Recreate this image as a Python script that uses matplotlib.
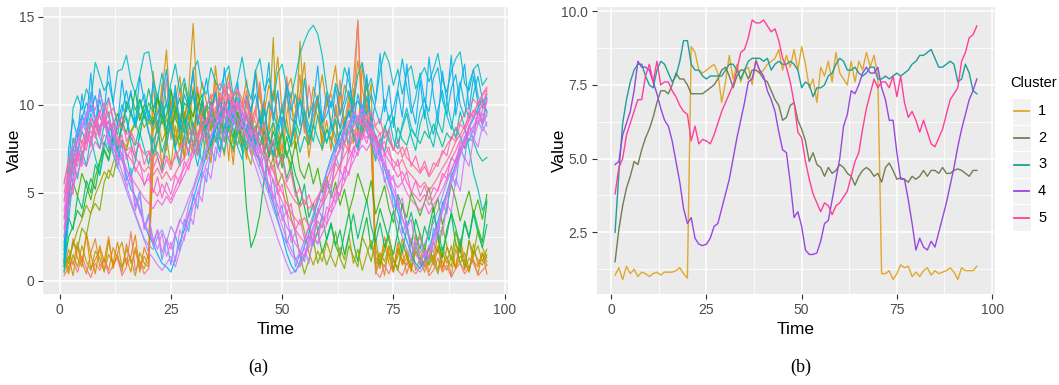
import numpy as np
import matplotlib
matplotlib.use('Agg')
from matplotlib import pyplot as plt
from matplotlib.lines import Line2D
from matplotlib.patches import Rectangle

# ---- data: panel (b) cluster centres ----
time = list(range(1, 97))
clusters = ['1', '2', '3', '4', '5']
center_colors = ['#E0A82E', '#6F7F52', '#1E9E9A', '#9A46E2', '#FF3F9C']

c1 = [1.05, 1.3, 0.9, 1.35, 1.1, 1.25, 1.0, 1.15, 1.1, 1.0, 1.1, 1.15, 1.05, 1.15, 1.15, 1.15, 1.2, 1.3, 1.1, 0.95,
      8.8, 8.6, 8.0, 7.9, 8.0, 8.1, 8.2, 7.9, 6.9, 7.6, 8.5, 7.7, 8.2, 7.6, 8.0, 8.1, 7.5, 8.4, 7.9, 8.0,
      8.2, 8.3, 8.4, 8.7, 8.0, 8.5, 8.1, 8.7, 8.0, 8.8, 8.2, 7.4, 7.7, 6.9, 8.1, 7.8, 8.3, 7.6, 8.6, 7.9,
      7.7, 7.5, 8.3, 7.6, 8.3, 8.0, 8.6, 8.1, 8.5, 7.8, 1.1, 1.1, 1.2, 0.9, 1.1, 1.4, 1.3, 1.35, 1.0, 1.15,
      1.0, 1.2, 1.3, 1.05, 1.2, 1.1, 1.15, 1.2, 1.3, 1.15, 0.9, 1.3, 1.2, 1.2, 1.2, 1.35]
c2 = [1.5, 2.6, 3.4, 4.0, 4.4, 4.9, 4.8, 5.3, 5.7, 6.0, 6.4, 6.9, 7.3, 7.3, 7.2, 7.5, 7.9, 7.7, 7.7, 7.5,
      7.2, 7.2, 7.2, 7.2, 7.3, 7.4, 7.5, 7.7, 8.0, 8.1, 7.8, 7.4, 7.8, 8.0, 8.0, 7.7, 8.0, 8.0, 7.9, 7.7,
      7.6, 7.3, 7.0, 6.8, 6.3, 6.4, 6.8, 6.9, 6.3, 6.0, 5.6, 4.9, 5.2, 4.8, 4.7, 4.4, 4.7, 4.5, 4.6, 4.8,
      4.7, 4.5, 4.4, 4.1, 4.4, 4.6, 4.7, 4.6, 4.4, 4.5, 4.2, 4.7, 4.85, 4.6, 4.3, 4.35, 4.3, 4.2, 4.4, 4.3,
      4.4, 4.6, 4.4, 4.6, 4.6, 4.5, 4.7, 4.5, 4.5, 4.6, 4.65, 4.6, 4.5, 4.4, 4.6, 4.6]
c3 = [2.5, 4.5, 6.2, 7.0, 7.6, 8.0, 8.2, 8.2, 7.8, 7.5, 7.4, 8.0, 8.3, 8.2, 7.9, 7.6, 7.8, 8.3, 9.0, 9.0,
      8.2, 8.0, 8.0, 7.8, 7.7, 7.8, 7.8, 7.8, 7.8, 8.0, 8.2, 8.2, 8.0, 7.7, 8.0, 8.3, 8.4, 8.4, 8.4, 8.3,
      8.4, 8.0, 8.2, 8.3, 8.2, 8.2, 8.3, 8.2, 8.0, 7.4, 7.6, 7.5, 7.1, 7.4, 7.4, 7.5, 7.8, 7.9, 8.2, 8.4,
      8.3, 8.0, 8.0, 8.1, 7.9, 7.8, 7.9, 8.1, 8.1, 7.7, 7.7, 7.8, 7.7, 7.8, 7.9, 7.8, 7.9, 8.0, 8.2, 8.3,
      8.5, 8.5, 8.6, 8.7, 8.4, 8.1, 8.1, 8.2, 8.3, 8.2, 7.6, 7.7, 8.2, 7.9, 7.3, 7.2]
c4 = [4.8, 4.9, 5.8, 6.2, 6.6, 7.3, 8.3, 8.1, 8.1, 8.0, 7.6, 7.2, 6.7, 6.3, 6.1, 5.6, 4.9, 4.2, 3.3, 2.8,
      3.0, 2.3, 2.1, 2.05, 2.1, 2.3, 2.7, 2.8, 3.3, 3.8, 4.3, 5.0, 5.7, 6.3, 6.9, 7.6, 7.7, 8.3, 8.0, 7.8,
      7.3, 7.0, 6.6, 5.9, 5.3, 5.2, 4.2, 3.0, 3.2, 2.7, 1.9, 1.75, 1.75, 1.8, 2.2, 2.8, 2.9, 3.6, 4.3, 5.0,
      6.1, 6.5, 7.3, 7.2, 7.5, 7.9, 8.1, 7.9, 7.9, 8.1, 7.4, 7.0, 6.3, 6.3, 5.2, 4.3, 4.3, 3.6, 2.8, 1.9,
      2.3, 2.0, 1.9, 2.2, 2.0, 2.5, 3.0, 3.5, 4.1, 4.7, 5.4, 6.0, 6.5, 7.0, 7.3, 7.7]
c5 = [3.8, 4.7, 5.0, 5.8, 6.2, 6.6, 7.0, 7.0, 7.8, 8.2, 7.6, 8.3, 7.5, 7.6, 7.6, 7.3, 7.1, 6.8, 6.6, 6.5,
      5.6, 6.1, 5.5, 5.65, 5.6, 5.5, 5.8, 6.2, 6.6, 6.9, 7.2, 7.5, 8.0, 8.6, 8.7, 9.1, 9.7, 9.6, 9.6, 9.7,
      9.5, 9.3, 9.4, 9.0, 8.4, 8.1, 7.6, 6.9, 5.9, 5.7, 4.9, 4.3, 3.8, 3.5, 3.2, 3.5, 3.4, 3.1, 3.4, 3.5,
      3.7, 3.9, 4.4, 4.9, 5.2, 6.0, 6.7, 7.2, 7.7, 7.4, 7.6, 7.6, 7.4, 7.8, 7.1, 7.8, 6.9, 6.4, 6.6, 6.3,
      5.9, 6.3, 5.9, 5.5, 5.4, 5.7, 6.0, 6.5, 7.0, 7.2, 7.4, 8.3, 8.6, 9.1, 9.2, 9.5]
centers = [c1, c2, c3, c4, c5]

# ---- data: panel (a) individual series (a sample) ----
members = {
    # cluster 1: low - high - low
    '#DD8D29': [0.5, 1.8, 0.9, 2.2, 1.1, 0.4, 1.6, 2.4, 0.8, 1.3, 0.6, 1.9, 1.2, 0.5, 2.1, 1.0, 1.7, 0.7, 1.4, 0.9,
                9.8, 8.5, 11.2, 7.4, 9.9, 10.6, 8.2, 7.1, 9.5, 12.1, 8.8, 10.3, 7.6, 9.1, 11.4, 8.3, 9.7, 6.8, 10.5, 8.9,
                7.5, 10.2, 8.6, 9.4, 11.0, 7.9, 8.4, 10.8, 9.2, 7.3, 10.9, 8.1, 9.6, 11.7, 8.7, 7.8, 10.1, 9.3, 8.0, 10.4,
                9.0, 7.7, 10.7, 8.5, 9.8, 11.3, 14.7, 8.2, 10.0, 9.4, 0.6, 1.5, 0.3, 2.0, 1.1, 0.8, 1.7, 0.4, 1.3, 2.2,
                0.9, 1.6, 0.5, 1.2, 2.0, 0.7, 1.4, 0.3, 1.8, 1.0, 0.6, 2.3, 1.1, 0.8, 1.5, 0.9],
    '#B79F00': [1.2, 0.4, 1.5, 0.8, 2.0, 1.1, 0.6, 1.7, 1.3, 0.5, 2.3, 0.9, 1.4, 0.7, 1.8, 1.2, 0.3, 1.6, 1.0, 0.8,
                6.8, 7.9, 9.3, 8.1, 6.5, 8.8, 7.4, 9.6, 8.0, 7.2, 10.1, 8.5, 6.9, 7.8, 9.0, 8.3, 7.1, 9.4, 8.6, 7.7,
                8.9, 7.3, 6.6, 8.2, 9.7, 7.5, 8.8, 13.8, 7.0, 8.4, 9.2, 7.6, 8.1, 13.6, 9.5, 7.9, 8.7, 10.3, 7.4, 8.6,
                8.0, 9.1, 7.5, 8.8, 10.6, 7.8, 9.3, 8.4, 11.5, 7.6, 1.4, 0.7, 2.1, 1.0, 0.5, 1.8, 1.2, 0.9, 2.4, 0.6,
                1.3, 0.8, 1.9, 1.1, 0.4, 1.6, 1.0, 2.0, 0.7, 1.4, 1.1, 0.5, 1.7, 1.2, 0.9, 1.5],
    '#D39200': [0.9, 1.4, 0.3, 1.9, 1.0, 2.6, 0.7, 1.2, 1.8, 0.6, 1.5, 1.0, 2.2, 0.8, 1.3, 0.5, 1.9, 1.1, 0.7, 1.6,
                11.9, 9.4, 10.7, 13.1, 8.9, 10.2, 11.6, 9.0, 10.8, 14.6, 9.7, 11.3, 10.1, 8.6, 12.2, 9.9, 10.5, 11.8, 9.3, 10.7,
                10.0, 11.4, 9.1, 12.0, 10.3, 9.6, 11.1, 10.4, 12.7, 9.5, 10.9, 11.5, 9.8, 10.6, 12.4, 9.2, 11.0, 10.1, 11.7, 9.9,
                10.8, 12.2, 9.4, 11.1, 10.5, 9.7, 12.5, 10.9, 9.6, 11.2, 0.4, 1.2, 0.8, 1.6, 0.5, 1.9, 0.9, 1.3, 0.6, 1.7,
                1.2, 0.5, 1.5, 0.9, 1.8, 1.1, 0.6, 1.4, 0.8, 2.1, 0.7, 1.3, 1.0, 0.4, 1.6, 1.1],
    '#F8766D': [0.3, 0.8, 1.1, 0.5, 1.4, 0.7, 0.2, 1.0, 0.6, 1.2, 0.4, 0.9, 1.5, 0.3, 0.8, 2.8, 0.6, 1.1, 0.4, 0.7,
                8.7, 10.3, 9.1, 11.5, 8.0, 9.6, 10.9, 8.4, 10.1, 9.3, 11.0, 8.8, 9.9, 10.6, 8.5, 9.4, 11.2, 9.0, 10.0, 8.3,
                9.5, 10.8, 8.9, 9.8, 11.3, 8.6, 10.2, 9.1, 10.7, 8.8, 11.6, 9.7, 9.2, 10.5, 8.4, 11.1, 9.6, 10.3, 8.9, 9.9,
                10.6, 9.3, 11.4, 8.7, 10.1, 9.5, 14.8, 9.0, 10.4, 8.6, 0.5, 0.2, 0.9, 0.4, 1.2, 0.6, 0.3, 1.0, 0.7, 0.4,
                0.8, 1.1, 0.3, 0.6, 1.3, 0.5, 0.9, 0.2, 0.7, 1.0, 0.4, 0.8, 1.2, 0.3, 0.6, 0.9],
    '#E58700': [1.8, 0.6, 2.4, 1.3, 0.8, 2.7, 1.5, 0.4, 2.0, 1.1, 2.5, 0.7, 1.6, 2.2, 0.9, 1.4, 2.6, 0.5, 1.9, 1.2,
                7.2, 9.0, 6.4, 8.3, 10.4, 7.7, 9.5, 6.9, 8.6, 11.0, 7.4, 9.8, 8.0, 6.7, 9.2, 10.6, 7.9, 8.8, 6.6, 9.6,
                8.3, 6.9, 9.9, 7.6, 8.7, 10.2, 7.1, 9.0, 8.2, 6.8, 9.4, 10.7, 7.5, 8.4, 9.6, 7.0, 8.9, 10.5, 7.8, 9.1,
                7.4, 10.0, 8.6, 9.3, 7.2, 10.9, 8.1, 12.3, 9.5, 7.9, 1.8, 0.9, 2.5, 1.4, 0.6, 2.2, 1.0, 1.7, 0.5, 2.6,
                1.4, 0.8, 2.0, 1.1, 2.7, 0.6, 1.9, 1.3, 0.7, 2.4, 1.2, 0.5, 2.1, 0.9, 1.6, 0.4],
    # cluster 2: rise, plateau, drop
    '#00BA38': [0.8, 2.5, 3.1, 4.0, 3.6, 4.9, 5.8, 5.2, 6.7, 7.9, 7.3, 8.8, 9.5, 8.6, 10.2, 9.4, 10.8, 9.1, 10.0, 9.6,
                8.9, 10.4, 9.7, 8.3, 10.9, 9.2, 8.6, 10.1, 9.8, 8.4, 9.9, 10.6, 8.8, 9.5, 7.9, 8.7, 10.2, 9.0, 8.1, 9.4,
                7.6, 4.1, 1.9, 2.6, 3.8, 5.9, 7.2, 8.5, 7.7, 6.4, 8.2, 7.1, 6.0, 5.3, 4.2, 3.0, 2.1, 2.8, 1.6, 2.4,
                3.3, 2.0, 1.4, 2.7, 3.9, 2.2, 1.1, 2.5, 3.6, 1.8, 2.9, 4.1, 3.2, 2.3, 1.5, 2.8, 4.4, 3.1, 2.0, 3.5,
                2.6, 1.7, 3.0, 4.2, 2.4, 1.3, 2.9, 3.8, 2.1, 1.6, 3.4, 2.5, 4.0, 3.0, 2.2, 4.5],
    '#7CAE00': [1.5, 1.0, 2.2, 1.8, 3.0, 2.6, 3.9, 4.4, 4.0, 5.6, 6.3, 5.9, 7.1, 7.8, 7.4, 8.5, 9.0, 8.2, 9.6, 8.9,
                9.3, 8.4, 10.0, 9.1, 8.6, 9.8, 8.0, 9.4, 10.3, 8.7, 9.2, 8.3, 9.9, 8.5, 9.6, 10.1, 8.8, 9.3, 7.8, 8.9,
                8.4, 7.7, 8.9, 7.3, 6.8, 7.5, 6.2, 7.0, 5.4, 6.1, 4.8, 3.6, 2.7, 1.5, 0.4, 1.2, 2.3, 1.0, 1.8, 0.9,
                1.6, 2.8, 1.3, 0.7, 2.0, 1.4, 0.8, 2.5, 1.9, 1.1, 2.4, 0.9, 1.7, 2.6, 1.2, 0.6, 2.1, 1.5, 0.8, 1.9,
                2.7, 1.4, 0.9, 2.2, 1.6, 3.1, 2.0, 1.2, 2.8, 1.7, 0.8, 2.3, 1.5, 2.9, 1.9, 1.3],
    '#39B600': [1.0, 4.2, 5.6, 4.8, 6.1, 5.4, 4.6, 5.9, 6.8, 7.5, 6.9, 8.3, 7.7, 8.9, 9.8, 10.6, 9.7, 10.3, 9.2, 10.1,
                9.6, 10.5, 8.9, 9.4, 10.8, 9.9, 8.7, 11.2, 10.0, 9.3, 10.7, 9.5, 8.6, 10.2, 9.1, 8.4, 9.7, 10.4, 8.9, 9.6,
                8.8, 9.5, 7.9, 8.6, 9.3, 7.4, 8.2, 6.9, 7.8, 8.5, 7.2, 6.6, 7.9, 6.3, 5.8, 6.7, 5.5, 6.4, 5.0, 5.9,
                4.7, 5.6, 4.3, 5.2, 3.9, 4.8, 6.1, 5.3, 4.5, 5.7, 3.8, 4.6, 5.4, 4.1, 3.3, 4.9, 4.2, 3.6, 5.0, 4.4,
                3.7, 4.5, 5.3, 3.9, 4.7, 3.2, 4.1, 5.5, 4.6, 3.4, 4.3, 5.1, 3.8, 4.6, 3.5, 4.9],
    '#A3A500': [0.6, 1.3, 2.0, 2.9, 3.5, 4.3, 3.8, 4.9, 5.5, 6.2, 5.8, 6.7, 7.4, 8.0, 7.6, 8.4, 8.9, 9.5, 8.7, 9.2,
                8.5, 9.1, 7.9, 8.6, 9.4, 8.2, 7.7, 8.8, 9.3, 7.5, 8.4, 9.0, 8.1, 7.4, 8.7, 9.2, 8.0, 8.6, 7.3, 8.5,
                7.9, 8.6, 7.2, 8.1, 7.6, 8.8, 7.0, 7.9, 8.4, 6.7, 7.4, 6.1, 5.2, 3.9, 2.8, 1.6, 0.9, 1.7, 1.1, 2.2,
                1.4, 0.8, 1.9, 1.2, 2.6, 1.0, 1.8, 0.6, 1.5, 2.3, 0.9, 1.6, 1.1, 2.0, 0.7, 1.4, 2.4, 1.3, 0.8, 1.7,
                1.2, 2.1, 0.9, 1.5, 0.6, 1.9, 1.3, 0.8, 2.2, 1.0, 1.6, 0.7, 1.4, 2.0, 1.1, 1.8],
    '#00BE67': [2.2, 3.6, 2.9, 4.8, 4.1, 5.7, 5.0, 6.6, 6.0, 7.4, 6.8, 8.1, 7.5, 9.0, 8.4, 9.6, 8.9, 10.3, 9.5, 10.9,
                9.8, 10.6, 9.2, 10.1, 8.7, 9.5, 10.4, 8.9, 9.7, 10.8, 9.0, 10.2, 8.5, 9.6, 10.7, 9.3, 8.4, 9.9, 10.5, 9.1,
                8.6, 9.4, 8.0, 8.8, 7.6, 8.5, 7.0, 7.9, 6.4, 7.2, 5.8, 6.6, 5.1, 4.3, 5.5, 3.6, 4.4, 2.8, 3.7, 2.3,
                3.2, 2.0, 2.9, 1.5, 2.6, 3.8, 2.4, 3.5, 4.6, 3.1, 2.2, 3.3, 1.9, 2.8, 4.0, 2.5, 1.6, 3.0, 3.9, 2.7,
                1.8, 3.1, 2.3, 3.7, 2.9, 1.7, 2.6, 3.9, 3.0, 2.0, 3.3, 2.4, 3.8, 2.7, 1.9, 3.2],
    # cluster 3: high throughout
    '#00BFC4': [0.8, 6.2, 9.8, 10.5, 9.7, 10.9, 10.2, 12.4, 11.6, 10.8, 11.3, 10.1, 11.9, 12.0, 12.8, 11.4, 10.6, 11.7, 12.9, 13.0,
                11.5, 10.4, 11.8, 10.0, 11.2, 12.3, 10.7, 11.5, 10.2, 11.9, 12.5, 11.0, 10.6, 12.1, 11.3, 10.8, 11.7, 12.2, 10.5, 11.4,
                12.7, 11.1, 10.3, 11.9, 12.6, 10.8, 11.5, 10.2, 11.8, 12.3, 11.0, 10.4, 11.6, 12.9, 13.6, 14.2, 14.5, 14.0, 12.8, 10.9,
                9.8, 11.2, 10.5, 12.1, 11.3, 10.0, 11.7, 12.4, 10.8, 11.5, 10.2, 11.9, 13.0, 12.4, 11.1, 12.0, 10.6, 11.8, 12.2, 10.9,
                11.6, 12.1, 11.3, 12.0, 12.9, 11.4, 10.7, 11.9, 12.6, 13.0, 11.2, 10.8, 12.0, 12.3, 11.1, 11.5],
    '#00B8E7': [1.5, 5.0, 7.3, 8.6, 9.4, 8.8, 10.0, 9.2, 8.5, 9.7, 10.4, 9.1, 8.3, 9.6, 10.8, 9.5, 8.7, 9.9, 10.6, 9.3,
                8.8, 9.5, 10.2, 8.6, 9.4, 10.7, 9.0, 8.4, 9.8, 10.5, 9.2, 8.7, 10.0, 9.6, 8.9, 10.3, 9.4, 8.6, 9.9, 10.4,
                9.1, 8.5, 9.7, 10.6, 9.3, 8.8, 10.1, 9.5, 8.6, 9.9, 10.7, 9.2, 8.9, 10.3, 9.6, 8.4, 9.8, 10.5, 9.0, 9.4,
                10.2, 9.5, 8.7, 9.9, 10.8, 9.3, 8.6, 10.0, 9.4, 10.6, 9.7, 8.9, 10.3, 9.1, 9.8, 10.9, 12.6, 11.0, 9.5, 10.4,
                11.8, 10.2, 9.6, 11.5, 12.1, 10.3, 9.4, 10.9, 11.7, 10.0, 9.3, 11.2, 12.0, 10.5, 9.8, 10.6],
    '#00C19A': [2.0, 5.8, 8.1, 7.2, 8.5, 7.8, 9.0, 8.3, 7.5, 8.9, 9.6, 8.0, 7.4, 8.7, 9.3, 8.1, 7.7, 8.8, 9.5, 8.4,
                7.9, 8.6, 7.3, 8.2, 9.0, 7.6, 8.4, 9.2, 7.8, 8.5, 7.1, 8.3, 9.1, 7.7, 8.6, 7.4, 8.9, 8.0, 7.5, 8.7,
                8.1, 7.4, 8.8, 7.9, 8.5, 7.2, 8.3, 9.0, 7.6, 8.4, 7.0, 7.9, 8.7, 7.3, 8.2, 7.7, 8.9, 8.1, 7.5, 8.6,
                8.0, 7.3, 8.5, 7.8, 8.9, 8.2, 7.6, 8.4, 9.1, 7.9, 8.3, 7.5, 8.8, 8.1, 7.4, 8.7, 8.0, 7.7, 8.6, 8.2,
                7.8, 8.5, 8.1, 8.9, 8.3, 7.6, 8.4, 8.0, 8.7, 8.2, 7.5, 8.1, 7.9, 7.2, 6.8, 7.0],
    '#00BCD8': [0.5, 3.4, 5.9, 7.6, 6.8, 8.2, 9.5, 8.7, 10.3, 9.1, 8.4, 7.6, 8.9, 10.0, 9.2, 7.8, 6.9, 8.3, 9.7, 8.5,
                7.2, 8.0, 9.4, 10.1, 8.6, 7.5, 6.8, 8.2, 9.0, 7.7, 6.5, 7.9, 8.8, 9.6, 8.1, 7.3, 8.5, 9.9, 8.4, 7.6,
                6.9, 8.3, 9.1, 7.5, 8.7, 9.8, 8.0, 7.1, 8.4, 9.3, 8.6, 7.8, 9.5, 10.2, 9.0, 8.1, 9.4, 10.0, 8.8, 7.9,
                8.5, 9.2, 7.6, 8.8, 9.7, 8.3, 7.4, 9.0, 10.5, 9.3, 8.1, 7.2, 8.6, 9.4, 8.0, 7.5, 8.9, 9.8, 8.7, 8.2,
                9.6, 10.4, 9.1, 8.3, 9.7, 10.8, 9.4, 8.6, 10.1, 11.3, 10.0, 9.2, 10.6, 11.6, 10.3, 9.5],
    '#00B0F6': [1.0, 7.5, 9.2, 8.1, 10.6, 9.0, 11.8, 8.7, 10.9, 9.5, 12.2, 10.1, 8.8, 11.4, 9.6, 10.8, 8.9, 11.6, 10.2, 9.1,
                11.3, 8.6, 10.4, 12.0, 9.3, 11.1, 8.5, 10.6, 9.8, 11.9, 8.9, 10.2, 11.5, 9.4, 10.7, 8.8, 12.1, 10.0, 9.2, 11.3,
                8.7, 10.5, 9.6, 11.8, 8.9, 10.3, 12.4, 9.1, 10.8, 8.4, 11.2, 9.7, 10.6, 8.8, 11.5, 9.3, 10.1, 12.2, 9.0, 10.7,
                8.6, 11.0, 9.4, 10.3, 12.1, 8.9, 10.6, 9.5, 11.7, 8.8, 10.2, 12.9, 9.6, 11.1, 8.7, 10.8, 9.3, 12.3, 10.0, 8.9,
                11.4, 9.2, 12.7, 10.5, 9.0, 11.9, 10.2, 12.8, 9.4, 11.0, 12.3, 9.7, 11.6, 10.1, 8.8, 10.4],
    '#00C0B8': [1.8, 4.6, 6.9, 5.8, 7.4, 6.5, 8.2, 7.0, 6.1, 7.7, 8.6, 7.3, 6.4, 8.0, 7.2, 5.9, 6.8, 8.4, 7.5, 6.6,
                8.1, 7.0, 6.2, 7.8, 8.9, 7.4, 6.5, 8.3, 7.1, 9.0, 7.9, 6.7, 8.5, 7.6, 9.2, 8.0, 7.3, 8.8, 9.5, 8.2,
                7.4, 8.7, 9.3, 7.8, 8.4, 9.6, 8.1, 7.2, 8.9, 9.8, 8.5, 7.7, 9.1, 8.3, 9.7, 8.8, 7.9, 9.4, 8.6, 7.8,
                9.0, 8.2, 7.5, 8.8, 9.6, 8.4, 7.7, 9.2, 8.5, 7.9, 6.8, 8.1, 7.3, 8.6, 9.3, 7.8, 8.7, 9.5, 8.2, 7.4,
                8.9, 9.7, 8.3, 7.6, 9.1, 8.4, 10.2, 9.0, 8.1, 9.6, 8.7, 7.5, 6.1, 5.2, 4.0, 4.6],
    # cluster 4: deep waves
    '#00A9FF': [1.2, 4.5, 6.8, 8.0, 9.2, 10.1, 9.6, 10.5, 9.3, 8.8, 9.0, 8.1, 7.4, 6.9, 6.0, 5.2, 4.8, 4.1, 3.2, 2.6,
                2.1, 1.5, 1.0, 0.8, 0.5, 1.3, 2.2, 2.9, 3.8, 4.6, 5.5, 6.3, 7.2, 7.9, 8.6, 9.1, 9.8, 10.4, 9.7, 9.9,
                9.2, 8.8, 8.1, 7.3, 6.8, 5.9, 5.2, 4.4, 3.5, 2.6, 1.6, 0.9, 0.5, 1.1, 2.0, 2.7, 3.6, 4.5, 5.3, 6.2,
                7.0, 7.7, 8.3, 9.0, 9.4, 9.9, 10.2, 9.6, 9.1, 8.7, 8.0, 7.2, 6.4, 5.5, 4.8, 3.9, 3.0, 2.3, 1.5, 1.0,
                0.7, 1.2, 1.9, 2.6, 3.4, 4.3, 5.0, 5.9, 6.6, 7.4, 8.0, 8.7, 9.2, 9.8, 10.3, 9.6],
    '#619CFF': [2.5, 4.9, 7.6, 6.8, 9.4, 8.5, 10.7, 9.1, 8.3, 9.8, 7.5, 8.6, 6.9, 7.8, 5.7, 6.4, 4.2, 5.1, 3.0, 3.8,
                2.0, 2.9, 1.2, 2.3, 0.9, 2.6, 1.7, 3.5, 2.8, 4.9, 4.1, 6.2, 5.6, 7.5, 6.8, 8.7, 7.9, 9.6, 8.8, 10.1,
                8.9, 9.4, 7.6, 8.3, 6.5, 7.1, 5.0, 5.8, 3.7, 4.3, 2.1, 2.9, 0.8, 1.6, 1.1, 2.5, 2.0, 4.1, 3.6, 5.5,
                5.0, 7.1, 6.4, 8.5, 7.8, 9.7, 8.8, 10.0, 8.4, 9.1, 7.0, 7.8, 5.6, 6.3, 4.1, 4.9, 2.7, 3.4, 1.4, 2.2,
                0.9, 1.7, 1.2, 3.0, 2.4, 4.5, 3.8, 6.1, 5.4, 7.6, 6.9, 8.8, 8.0, 9.7, 8.9, 9.4],
    '#C77CFF': [3.5, 5.2, 6.4, 7.5, 8.6, 9.3, 9.8, 9.1, 8.7, 8.9, 8.2, 7.5, 7.0, 6.2, 5.4, 4.6, 3.8, 3.1, 2.3, 1.6,
                1.3, 0.9, 0.6, 1.0, 1.4, 0.8, 1.7, 2.5, 3.3, 4.2, 5.0, 5.8, 6.7, 7.3, 8.1, 8.8, 9.4, 8.9, 9.6, 9.0,
                8.4, 7.9, 7.2, 6.5, 5.7, 4.9, 4.0, 3.2, 2.4, 1.7, 1.0, 0.4, 0.6, 0.9, 1.5, 2.3, 3.1, 4.0, 4.8, 5.7,
                6.5, 7.3, 7.9, 8.6, 9.1, 8.7, 9.4, 8.9, 8.5, 8.0, 7.3, 6.6, 5.8, 5.0, 4.1, 3.3, 2.5, 1.8, 1.2, 0.8,
                0.5, 0.9, 1.4, 2.2, 3.0, 3.9, 4.7, 5.5, 6.3, 7.1, 7.8, 8.4, 8.0, 8.9, 9.5, 8.8],
    '#9590FF': [5.5, 6.9, 7.8, 8.5, 9.0, 8.4, 9.2, 8.8, 8.1, 7.6, 7.9, 7.2, 6.5, 5.9, 5.1, 4.4, 3.7, 3.0, 2.4, 2.0,
                1.8, 2.5, 2.9, 2.2, 3.1, 2.6, 3.4, 4.0, 4.7, 5.3, 6.1, 6.9, 7.5, 8.2, 8.7, 9.3, 8.8, 9.5, 9.1, 8.6,
                8.9, 8.2, 7.6, 7.0, 6.3, 5.6, 4.9, 4.1, 3.4, 2.7, 2.1, 1.5, 1.2, 1.6, 2.3, 3.0, 3.8, 4.6, 5.4, 6.1,
                6.8, 7.5, 8.1, 7.8, 8.6, 9.2, 8.9, 9.5, 8.7, 8.3, 7.7, 7.1, 6.4, 5.7, 4.9, 4.2, 3.5, 2.9, 2.3, 1.9,
                1.6, 2.1, 2.7, 3.3, 4.0, 4.8, 5.6, 6.2, 6.9, 7.6, 8.2, 7.9, 8.7, 9.1, 8.5, 9.0],
    '#D277FF': [4.6, 6.1, 5.5, 7.4, 6.9, 8.6, 8.0, 9.4, 8.7, 9.1, 7.8, 8.4, 6.6, 7.3, 5.3, 6.0, 4.0, 4.8, 2.9, 3.6,
                2.4, 1.8, 2.7, 1.4, 2.2, 1.1, 2.9, 2.3, 3.9, 3.2, 5.1, 4.5, 6.4, 5.8, 7.6, 7.0, 8.6, 8.1, 9.2, 8.5,
                9.0, 8.2, 8.6, 7.1, 7.7, 5.9, 6.5, 4.6, 5.3, 3.4, 4.0, 2.2, 2.8, 1.3, 1.9, 1.0, 2.6, 2.1, 3.8, 3.2,
                5.0, 4.4, 6.3, 5.7, 7.6, 7.0, 8.5, 8.0, 8.9, 8.3, 7.9, 6.8, 7.2, 5.5, 6.0, 4.2, 4.7, 3.0, 3.5, 1.9,
                2.5, 1.3, 2.0, 1.6, 3.1, 2.6, 4.4, 3.9, 5.8, 5.1, 7.0, 6.5, 8.1, 7.6, 8.8, 8.3],
    '#E76BF3': [4.0, 5.8, 7.0, 7.9, 8.8, 9.5, 10.2, 9.7, 10.6, 9.9, 9.3, 8.5, 8.0, 7.1, 6.4, 5.6, 4.7, 3.9, 3.3, 2.8,
                2.2, 2.9, 1.6, 2.4, 1.8, 2.7, 3.5, 3.1, 4.3, 5.1, 5.9, 6.6, 7.4, 8.3, 8.9, 9.6, 10.0, 9.4, 10.3, 9.8,
                9.5, 8.7, 8.3, 7.6, 7.0, 6.1, 5.4, 4.6, 3.9, 3.1, 2.4, 1.8, 1.3, 0.8, 1.4, 2.1, 2.9, 3.7, 4.4, 5.2,
                6.0, 6.9, 7.6, 8.4, 8.9, 9.6, 9.2, 9.8, 9.0, 8.5, 7.9, 7.4, 6.7, 5.9, 5.2, 4.5, 3.6, 2.8, 2.0, 1.5,
                1.1, 1.7, 1.3, 2.4, 3.2, 4.0, 4.9, 5.7, 6.5, 7.2, 8.1, 8.8, 9.4, 8.9, 9.7, 10.2],
    # cluster 5: shallow waves
    '#FF61C3': [3.0, 5.1, 6.3, 7.0, 7.6, 8.2, 7.8, 8.9, 9.4, 8.7, 9.1, 8.4, 8.0, 7.7, 7.2, 6.9, 6.4, 6.0, 5.5, 5.8,
                5.2, 4.8, 5.5, 5.0, 4.6, 5.3, 5.9, 6.4, 6.9, 7.5, 8.1, 8.6, 9.2, 9.7, 10.3, 10.1, 10.8, 10.4, 9.9, 10.2,
                9.6, 9.1, 8.7, 8.2, 7.6, 7.0, 6.3, 5.7, 5.1, 4.5, 3.9, 3.4, 2.9, 2.5, 2.2, 2.6, 2.3, 2.8, 3.2, 3.7,
                4.3, 4.9, 5.6, 6.2, 6.9, 7.5, 8.0, 8.4, 8.1, 8.6, 8.2, 7.7, 7.3, 6.8, 6.4, 5.9, 6.2, 5.6, 5.1, 4.8,
                4.5, 4.9, 4.3, 4.7, 5.2, 5.8, 6.3, 6.9, 7.4, 8.0, 8.5, 9.1, 9.6, 10.0, 10.5, 10.9],
    '#FF6C91': [4.5, 5.9, 6.6, 7.3, 7.0, 7.9, 8.5, 8.1, 8.8, 9.3, 8.6, 8.9, 8.2, 7.8, 7.4, 7.6, 7.0, 6.6, 6.2, 6.5,
                6.0, 6.4, 5.8, 6.2, 5.7, 6.1, 6.6, 7.0, 7.4, 7.9, 8.3, 8.8, 9.0, 9.5, 9.8, 10.4, 9.9, 10.6, 10.1, 9.7,
                10.0, 9.4, 9.0, 8.5, 8.0, 7.4, 6.9, 6.2, 5.6, 5.0, 4.4, 3.9, 3.5, 3.2, 3.6, 3.1, 3.4, 3.9, 4.3, 4.8,
                5.4, 6.0, 6.6, 7.1, 7.6, 8.0, 8.5, 8.2, 8.8, 8.4, 8.0, 7.6, 7.9, 7.2, 6.8, 6.5, 6.9, 6.3, 6.0, 5.7,
                5.3, 5.6, 5.1, 5.5, 5.9, 6.4, 6.8, 7.3, 7.9, 8.3, 8.8, 9.2, 9.7, 9.4, 10.1, 10.6],
    '#F564E3': [2.5, 4.2, 5.4, 6.1, 6.8, 6.5, 7.3, 7.9, 7.5, 8.3, 8.0, 7.6, 7.1, 6.8, 6.3, 5.9, 5.5, 5.1, 4.7, 4.4,
                4.1, 4.6, 4.3, 4.8, 4.4, 5.0, 5.5, 6.0, 6.6, 7.1, 7.7, 8.2, 8.6, 9.1, 9.4, 9.0, 9.7, 9.3, 9.8, 9.2,
                8.8, 8.3, 7.8, 7.2, 6.7, 6.1, 5.5, 4.9, 4.3, 3.7, 3.1, 2.6, 2.1, 1.7, 1.4, 1.9, 2.4, 2.1, 2.7, 3.2,
                3.8, 4.4, 5.0, 5.6, 6.2, 6.8, 7.3, 7.7, 7.4, 7.9, 7.5, 7.0, 6.6, 6.1, 5.7, 5.3, 5.6, 5.0, 4.6, 4.3,
                4.0, 4.4, 3.8, 4.3, 4.7, 5.2, 5.8, 6.3, 6.9, 7.4, 7.9, 8.4, 8.8, 9.3, 8.9, 9.6],
    '#FD61D1': [3.6, 5.5, 4.9, 7.2, 6.5, 8.4, 7.6, 9.1, 8.2, 9.6, 8.5, 9.0, 7.7, 8.3, 6.9, 7.5, 6.2, 6.8, 5.4, 6.1,
                5.0, 5.9, 4.7, 5.6, 4.9, 6.0, 5.5, 6.8, 6.3, 7.6, 7.1, 8.5, 7.9, 9.3, 8.8, 10.0, 9.4, 10.5, 9.6, 10.1,
                9.0, 9.6, 8.1, 8.7, 7.2, 7.8, 6.0, 6.6, 4.9, 5.5, 3.8, 4.4, 2.9, 3.5, 2.4, 3.1, 2.6, 3.4, 3.0, 4.2,
                3.9, 5.3, 4.8, 6.5, 6.0, 7.6, 7.1, 8.4, 7.8, 8.7, 7.9, 8.4, 7.1, 7.6, 6.3, 6.9, 5.6, 6.2, 5.0, 5.7,
                4.8, 5.4, 4.6, 5.3, 5.1, 6.1, 5.8, 7.0, 6.7, 7.9, 7.6, 8.8, 8.4, 9.5, 9.1, 10.3],
    '#FF64B0': [5.0, 6.4, 7.1, 6.5, 8.0, 7.4, 8.9, 8.3, 9.7, 8.9, 10.3, 9.2, 8.6, 9.4, 7.9, 8.5, 7.2, 7.8, 6.6, 7.3,
                6.4, 7.0, 6.1, 6.9, 6.3, 7.3, 6.8, 7.8, 7.4, 8.6, 8.1, 9.3, 8.9, 10.0, 9.5, 10.7, 10.2, 11.3, 10.4, 10.9,
                9.8, 10.4, 9.1, 9.7, 8.3, 8.9, 7.4, 8.0, 6.5, 7.1, 5.6, 6.2, 4.8, 5.3, 4.3, 4.9, 4.0, 4.7, 4.5, 5.6,
                5.4, 6.7, 6.2, 7.8, 7.3, 8.6, 8.2, 9.3, 8.7, 9.6, 8.8, 9.2, 8.1, 8.6, 7.4, 8.0, 7.0, 7.6, 6.5, 7.1,
                6.2, 6.8, 6.0, 6.7, 6.5, 7.4, 7.1, 8.2, 7.9, 8.9, 8.6, 9.6, 9.3, 10.2, 9.9, 10.8],
    '#FF6A98': [5.6, 6.8, 7.5, 8.1, 7.8, 8.6, 9.2, 8.8, 9.6, 10.1, 9.4, 9.8, 9.1, 8.7, 8.3, 8.5, 7.9, 7.6, 7.2, 7.4,
                7.0, 7.3, 6.7, 7.1, 6.6, 7.0, 7.5, 7.9, 8.3, 8.7, 9.2, 9.6, 10.0, 10.4, 10.8, 11.2, 10.7, 11.0, 10.5, 10.9,
                10.3, 9.9, 9.5, 9.0, 8.6, 8.1, 7.6, 7.0, 6.5, 5.9, 5.4, 4.9, 4.5, 4.2, 4.6, 4.1, 4.4, 4.8, 5.3, 5.8,
                6.3, 6.9, 7.4, 7.9, 8.4, 8.8, 9.2, 8.9, 9.4, 9.0, 8.7, 8.3, 8.6, 7.9, 7.5, 7.2, 7.6, 7.0, 6.7, 6.4,
                6.1, 6.5, 5.9, 6.3, 6.8, 7.2, 7.7, 8.1, 8.6, 9.0, 9.5, 9.9, 10.3, 10.0, 10.6, 11.0],
}

# ---- style ----
plt.rcParams['font.family'] = ['Liberation Sans', 'DejaVu Sans']
PANEL = '#EBEBEB'
TICKC = '#4D4D4D'


def gg_axes(ax, xlim, ylim, xmaj, xmin, ymaj, ymin, yfmt, ylab_x):
    ax.set_facecolor(PANEL)
    ax.set_xlim(*xlim)
    ax.set_ylim(*ylim)
    for v in xmin:
        ax.axvline(v, color='white', lw=0.55, zorder=0)
    for v in ymin:
        ax.axhline(v, color='white', lw=0.55, zorder=0)
    for v in xmaj:
        ax.axvline(v, color='white', lw=1.1, zorder=0)
    for v in ymaj:
        ax.axhline(v, color='white', lw=1.1, zorder=0)
    ax.set_xticks(xmaj)
    ax.set_yticks(ymaj)
    ax.set_yticklabels([yfmt.format(v) for v in ymaj])
    for s in ax.spines.values():
        s.set_visible(False)
    ax.tick_params(length=3.5, width=0.8, color='#333333', labelcolor=TICKC,
                   labelsize=10, pad=3)
    ax.set_xlabel('Time', fontsize=12.5)
    ax.set_ylabel('Value', fontsize=12.5)
    ax.xaxis.set_label_coords(0.5, -0.098)
    ax.yaxis.set_label_coords(ylab_x, 0.5)


fig = plt.figure(figsize=(10.59, 3.85), dpi=100)
ax1 = fig.add_axes([0.0406, 0.2364, 0.4391, 0.7454])
ax2 = fig.add_axes([0.5637, 0.2364, 0.3758, 0.7454])

gg_axes(ax1, (-3.75, 100.75), (-0.74, 15.54), [0, 25, 50, 75, 100],
        [12.5, 37.5, 62.5, 87.5], [0, 5, 10, 15], [2.5, 7.5, 12.5], '{:g}', -0.045)
for col, vals in members.items():
    ax1.plot(time, vals, color=col, lw=0.85, alpha=0.9)

gg_axes(ax2, (-3.75, 100.75), (0.41, 10.14), [0, 25, 50, 75, 100],
        [12.5, 37.5, 62.5, 87.5], [2.5, 5.0, 7.5, 10.0], [1.25, 3.75, 6.25, 8.75], '{:.1f}', -0.075)
for lab, col, vals in zip(clusters, center_colors, centers):
    ax2.plot(time, vals, color=col, lw=1.0, label=lab)

# legend drawn ggplot-style: grey key boxes, short line keys, labels to the right
fig.text(1010 / 1059, 1 - 83 / 385, 'Cluster', fontsize=10.5, va='center', ha='left')
key_top = 98
for i, (lab, col) in enumerate(zip(clusters, center_colors)):
    top = key_top + i * 26.6
    yc = 1 - (top + 13.3) / 385
    fig.add_artist(Rectangle((1012 / 1059, 1 - (top + 26.6) / 385), 19 / 1059, 26.6 / 385,
                             transform=fig.transFigure, facecolor='#F2F2F2',
                             edgecolor='white', lw=0.8))
    fig.add_artist(Line2D([1014 / 1059, 1029 / 1059], [yc, yc], transform=fig.transFigure,
                          color=col, lw=1.3))
    fig.text(1038 / 1059, yc, lab, fontsize=10.5, va='center', ha='left')

fig.text(0.2436, 0.035, '(a)', fontsize=13, family='Liberation Serif', ha='center')
fig.text(0.7563, 0.035, '(b)', fontsize=13, family='Liberation Serif', ha='center')

fig.savefig('out.png', dpi=100)
